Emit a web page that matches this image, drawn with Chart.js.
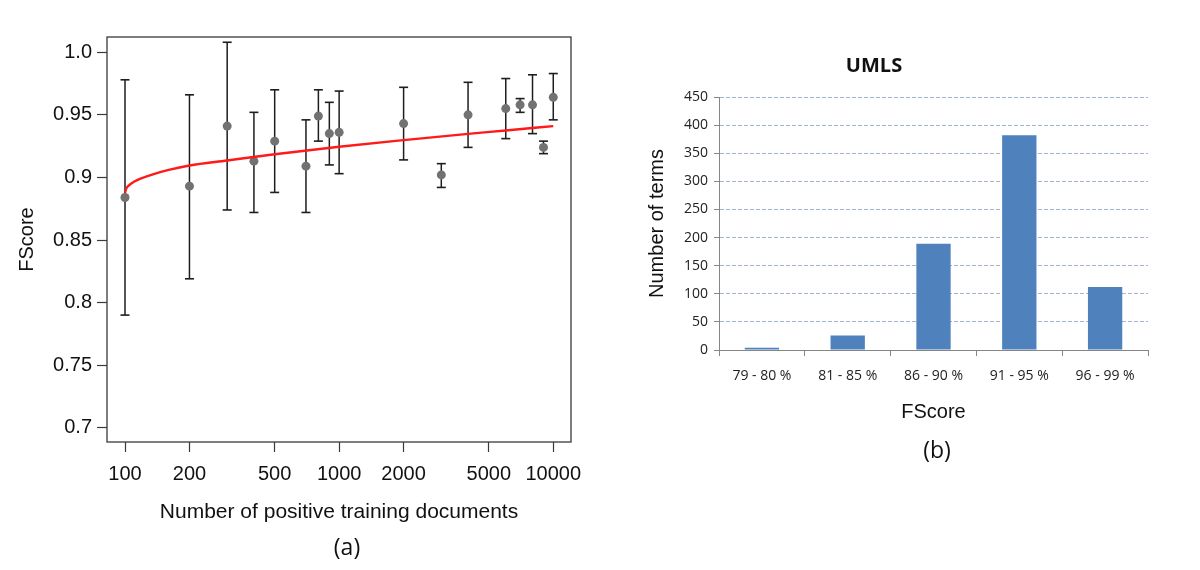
<!DOCTYPE html>
<html>
<head>
<meta charset="utf-8">
<script src="https://cdn.jsdelivr.net/npm/chart.js@4.4.1/dist/chart.umd.min.js"></script>
<style>
  html, body { margin: 0; padding: 0; background: #ffffff; }
  #wrap { position: relative; width: 1200px; height: 570px; overflow: hidden; }
  canvas { position: absolute; top: 0; }
  #ca { left: 0; }
  #cb { left: 600px; }
  .cap { position: absolute; font-family: "Open Sans", sans-serif; font-size: 23px; color: #111; transform: translate(-50%, -50%); white-space: nowrap; }
</style>
</head>
<body>
<div id="wrap">
  <canvas id="ca" width="600" height="570"></canvas>
  <canvas id="cb" width="600" height="570"></canvas>
  <div class="cap" style="left:347px; top:546px;">(a)</div>
  <div class="cap" style="left:937px; top:449px;">(b)</div>
</div>
<script>
// ---------- Chart (a): FScore vs number of positive training documents ----------
const docCounts = [100, 200, 300, 400, 500, 700, 800, 900, 1000, 2000, 3000, 4000, 6000, 7000, 8000, 9000, 10000];
const fscoreMean = [0.884, 0.893, 0.941, 0.913, 0.929, 0.909, 0.949, 0.935, 0.936, 0.943, 0.902, 0.950, 0.955, 0.958, 0.958, 0.924, 0.964];
const fscoreLow  = [0.790, 0.819, 0.874, 0.872, 0.888, 0.872, 0.929, 0.910, 0.903, 0.914, 0.892, 0.924, 0.931, 0.952, 0.935, 0.919, 0.946];
const fscoreHigh = [0.978, 0.966, 1.008, 0.952, 0.970, 0.946, 0.970, 0.960, 0.969, 0.972, 0.911, 0.976, 0.979, 0.963, 0.982, 0.929, 0.983];
const fitDocs   = [100, 101, 104, 110, 120, 135, 160, 200, 300, 500, 1000, 2000, 4000, 6000, 10000];
const fitFscore = [0.8875, 0.8905, 0.8935, 0.8965, 0.8995, 0.9025, 0.906, 0.9095, 0.9135, 0.9185, 0.9245, 0.9298, 0.9348, 0.9375, 0.941];
const xTickValues = [100, 200, 500, 1000, 2000, 5000, 10000];
const xTickLabels = ['100', '200', '500', '1000', '2000', '5000', '10000'];
const yTickValues = [0.7, 0.75, 0.8, 0.85, 0.9, 0.95, 1.0];
const yTickLabels = ['0.7', '0.75', '0.8', '0.85', '0.9', '0.95', '1.0'];

// ---------- Chart (b): UMLS histogram ----------
const umlsCategories = ['79 - 80 %', '81 - 85 %', '86 - 90 %', '91 - 95 %', '96 - 99 %'];
const umlsCounts = [4, 26, 189, 382, 112];

const FONT_A = '"Liberation Sans", Arial, sans-serif';
const FONT_B = '"Open Sans", sans-serif';

const meanPoints = docCounts.map((x, i) => ({ x: x, y: fscoreMean[i] }));
const errPoints = [];
docCounts.forEach((x, i) => {
  errPoints.push({ x: x, y: fscoreLow[i] });
  errPoints.push({ x: x, y: fscoreHigh[i] });
  errPoints.push({ x: x, y: null });
});
const fitPoints = fitDocs.map((x, i) => ({ x: x, y: fitFscore[i] }));

const boxPlugin = {
  id: 'box',
  afterDraw(chart) {
    const a = chart.chartArea, c = chart.ctx;
    c.save();
    c.strokeStyle = '#3a3a3a';
    c.lineWidth = 1.3;
    c.strokeRect(a.left, a.top, a.right - a.left, a.bottom - a.top);
    c.restore();
  }
};

new Chart(document.getElementById('ca'), {
  type: 'scatter',
  data: {
    datasets: [
      {
        label: 'fit', data: fitPoints, showLine: true, order: 0,
        borderColor: '#ff1a1a', borderWidth: 2.4, pointRadius: 0,
        cubicInterpolationMode: 'monotone'
      },
      {
        label: 'mean', data: meanPoints, order: 1,
        pointStyle: 'circle', pointRadius: 4.5, backgroundColor: '#727272', borderColor: '#727272', borderWidth: 0
      },
      {
        label: 'err', data: errPoints, order: 2, showLine: true, spanGaps: false,
        borderColor: '#1e1e1e', borderWidth: 1.5,
        pointStyle: 'line', pointRadius: 4.5, pointBorderColor: '#1e1e1e', pointBorderWidth: 1.6
      }
    ]
  },
  options: {
    responsive: false, animation: false, devicePixelRatio: 1,
    layout: { padding: { left: 0, top: 37, right: 29, bottom: 38 } },
    plugins: { legend: { display: false }, tooltip: { enabled: false }, title: { display: false } },
    scales: {
      x: {
        type: 'logarithmic', min: 82.4, max: 12100,
        afterBuildTicks: s => { s.ticks = xTickValues.map(v => ({ value: v })); },
        afterFit: s => { s.height = 90; },
        ticks: {
          autoSkip: false, maxRotation: 0, color: '#111', padding: 10,
          font: { family: FONT_A, size: 20 },
          callback: (v) => { const i = xTickValues.indexOf(v); return i >= 0 ? xTickLabels[i] : ''; }
        },
        grid: { display: true, drawOnChartArea: false, drawTicks: true, tickLength: 10, tickColor: '#3a3a3a', tickWidth: 1.2 },
        border: { display: false },
        title: { display: true, text: 'Number of positive training documents', color: '#111',
                 font: { family: FONT_A, size: 21 }, padding: { top: 0, bottom: 7 } }
      },
      y: {
        type: 'linear', min: 0.6886, max: 1.0122,
        afterBuildTicks: s => { s.ticks = yTickValues.map(v => ({ value: v })); },
        afterFit: s => { s.width = 107; },
        ticks: {
          autoSkip: false, color: '#111', padding: 5,
          font: { family: FONT_A, size: 20 },
          callback: (v) => { const i = yTickValues.findIndex(t => Math.abs(t - v) < 1e-9); return i >= 0 ? yTickLabels[i] : ''; }
        },
        grid: { display: true, drawOnChartArea: false, drawTicks: true, tickLength: 10, tickColor: '#3a3a3a', tickWidth: 1.2 },
        border: { display: false },
        title: { display: true, text: 'FScore', color: '#111',
                 font: { family: FONT_A, size: 20 }, padding: { top: 15, bottom: 0 } }
      }
    }
  },
  plugins: [boxPlugin]
});

new Chart(document.getElementById('cb'), {
  type: 'bar',
  data: {
    labels: umlsCategories,
    datasets: [{ label: 'UMLS', data: umlsCounts, backgroundColor: '#4f81bd', borderWidth: 0,
                 categoryPercentage: 1.0, barPercentage: 0.4 }]
  },
  options: {
    responsive: false, animation: false, devicePixelRatio: 1,
    layout: { padding: { left: 0, top: 0, right: 52, bottom: 140 } },
    plugins: {
      legend: { display: false }, tooltip: { enabled: false },
      title: { display: true, text: 'UMLS', color: '#111', font: { family: FONT_B, size: 20, weight: 'bold' },
               padding: { top: 54, bottom: 19 } }
    },
    scales: {
      x: {
        afterFit: s => { s.height = 80; },
        ticks: { color: '#222', padding: 12, font: { family: FONT_B, size: 14 }, maxRotation: 0, autoSkip: false },
        grid: { display: true, offset: true, drawOnChartArea: false, drawTicks: true, tickLength: 6, tickColor: '#868686' },
        border: { display: true, color: '#868686', width: 1 },
        title: { display: true, text: 'FScore', color: '#111', font: { family: FONT_A, size: 20 }, padding: { top: 0, bottom: 6 } }
      },
      y: {
        min: 0, max: 450,
        afterFit: s => { s.width = 119; },
        ticks: { stepSize: 50, color: '#222', padding: 6, font: { family: FONT_B, size: 14 } },
        grid: {
          display: true, drawTicks: true, tickLength: 5, tickColor: '#868686',
          color: (ctx) => (ctx.tick && ctx.tick.value === 0) ? 'rgba(0,0,0,0)' : '#a2b4d0'
        },
        border: { display: true, color: '#868686', width: 1, dash: [4, 2] },
        title: { display: true, text: 'Number of terms', color: '#111', font: { family: FONT_A, size: 20 }, padding: { top: 45, bottom: 0 } }
      }
    }
  }
});
</script>
</body>
</html>
